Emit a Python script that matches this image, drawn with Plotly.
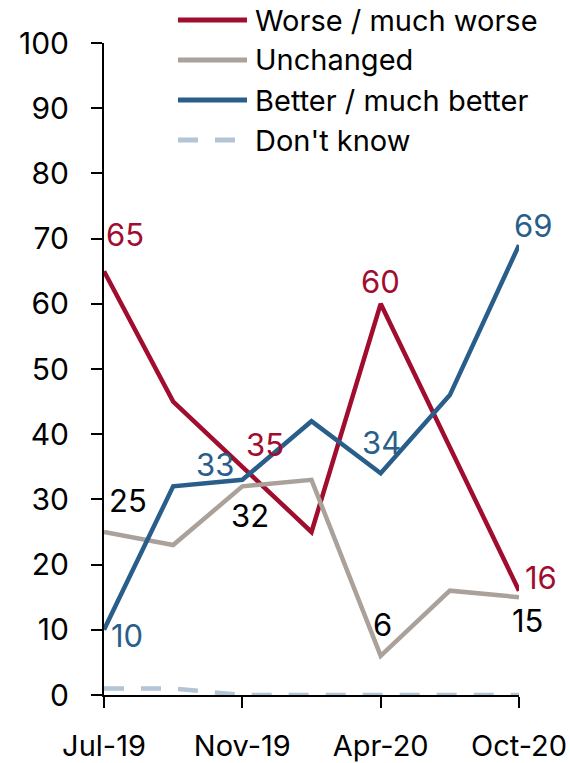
import plotly.graph_objects as go

categories = ["Jul-19", "Sep-19", "Nov-19", "Jan-20", "Apr-20", "Jul-20", "Oct-20"]
tick_labels = ["Jul-19", "Nov-19", "Apr-20", "Oct-20"]
tick_index = [0, 2, 4, 6]

worse = [65, 45, 35, 25, 60, 38, 16]
unchanged = [25, 23, 32, 33, 6, 16, 15]
better = [10, 32, 33, 42, 34, 46, 69]
dont_know = [1, 1, 0, 0, 0, 0, 0]

series_names = ["Worse / much worse", "Unchanged", "Better / much better", "Don't know"]
colors = ["#A10D2E", "#AAA19B", "#2A5E8A", "#B3C4D5"]

FONT = "Inter, Liberation Sans, Arial, sans-serif"
W, H = 570, 763
L, T = 104, 43
pw, ph = 415, 652
R, B = W - L - pw, H - T - ph

def px_x(page_x):
    return (page_x - L) / pw

def px_y(page_y):
    return (T + ph - page_y) / ph

DASH = "20px,17px"

x = list(range(len(categories)))
fig = go.Figure()
all_series = [worse, unchanged, better, dont_know]
for name, vals, col in zip(series_names, all_series, colors):
    fig.add_trace(go.Scatter(
        x=x, y=vals, mode="lines", name=name, cliponaxis=False,
        line=dict(color=col, width=4.5, dash=DASH if name == "Don't know" else "solid"),
        showlegend=False))

# data labels: (series index, point index, xshift, yshift, label colour)
label_specs = [
    (0, 0, 21, 37, colors[0]), (0, 2, 23, 22, colors[0]), (0, 4, 0, 22, colors[0]), (0, 6, 22, 13, colors[0]),
    (1, 0, 24, 32, "#000000"), (1, 2, 8, -29, "#000000"), (1, 4, 2, 31, "#000000"), (1, 6, 8, -23, "#000000"),
    (2, 0, 23, -6, colors[2]), (2, 2, -27, 15, colors[2]), (2, 4, 1, 31, colors[2]), (2, 6, 14, 20, colors[2]),
]
for si, pi, dx, dy, col in label_specs:
    val = all_series[si][pi]
    fig.add_annotation(x=pi, y=val, xref="x", yref="y", text=str(val), showarrow=False,
                       xshift=dx, yshift=dy, font=dict(size=31, color=col, family=FONT))

# legend drawn manually
leg_rows = [20, 60, 100, 140]
for name, col, py in zip(series_names, colors, leg_rows):
    yy = px_y(py)
    is_dash = name == "Don't know"
    fig.add_shape(type="line", xref="paper", yref="paper",
                  x0=px_x(178), x1=px_x(236 if is_dash else 247), y0=yy, y1=yy,
                  line=dict(color=col, width=5, dash=DASH if is_dash else "solid"))
    fig.add_annotation(x=px_x(253), y=yy, xref="paper", yref="paper", text=name,
                       showarrow=False, xanchor="left", yanchor="middle",
                       font=dict(size=29, color="#000000", family=FONT))

fig.update_layout(
    width=W, height=H, margin=dict(l=L, r=R, t=T, b=B, autoexpand=False),
    plot_bgcolor="white", paper_bgcolor="white",
    font=dict(family=FONT, size=30, color="#000000"),
    xaxis=dict(range=[0, 6], tickvals=tick_index, ticktext=tick_labels, showgrid=False,
               zeroline=False, showline=True, linecolor="#000000", linewidth=2,
               ticks="outside", ticklen=11, tickwidth=2, tickcolor="#000000",
               ticklabelstandoff=13, tickfont=dict(size=29), automargin=False),
    yaxis=dict(range=[0, 100], dtick=10, showgrid=False, zeroline=False, showline=True,
               linecolor="#000000", linewidth=2, ticks="outside", ticklen=11, tickwidth=2,
               tickcolor="#000000", ticklabelstandoff=16, tickfont=dict(size=30), automargin=False),
)
fig.write_html("out.html", config={"displayModeBar": False},
               post_script="document.body.style.margin='0';document.body.style.overflow='hidden';")
